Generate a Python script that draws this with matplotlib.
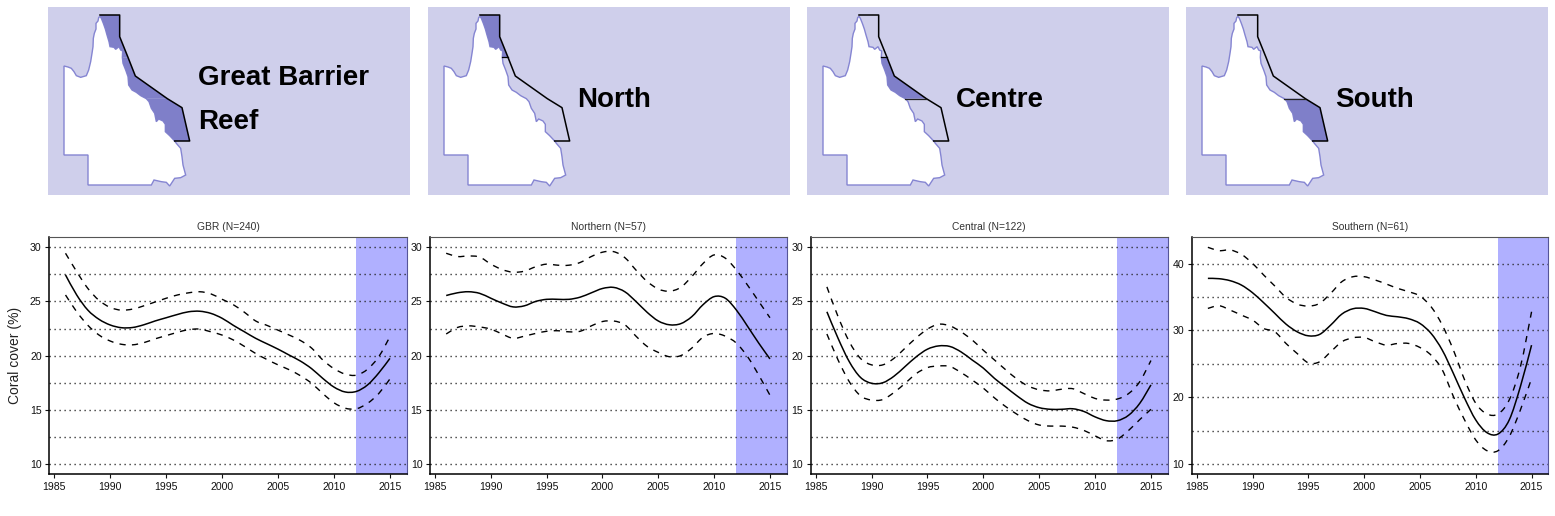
import matplotlib
matplotlib.use('Agg')
import matplotlib.pyplot as plt
from matplotlib.patches import Polygon, PathPatch
from matplotlib.path import Path

plt.rcParams['font.family'] = ['Liberation Sans', 'DejaVu Sans']

years = list(range(1986, 2016))

gbr_mean = [27.45, 25.6, 24.2, 23.35, 22.83, 22.58, 22.6, 22.85, 23.2, 23.5, 23.8, 24.05, 24.1, 23.9, 23.45,
            22.8, 22.2, 21.6, 21.1, 20.6, 20.05, 19.5, 18.8, 17.9, 17.1, 16.65, 16.7, 17.3, 18.4, 19.75]
gbr_upper = [29.45, 27.75, 26.2, 25.1, 24.45, 24.2, 24.3, 24.6, 24.95, 25.3, 25.6, 25.8, 25.9, 25.7, 25.2,
             24.7, 24.0, 23.2, 22.8, 22.35, 21.9, 21.4, 20.7, 19.6, 18.8, 18.3, 18.2, 18.75, 19.9, 21.75]
gbr_lower = [25.6, 24.05, 22.8, 21.9, 21.35, 21.05, 21.0, 21.2, 21.55, 21.85, 22.15, 22.4, 22.45, 22.2, 21.9,
             21.45, 20.85, 20.2, 19.65, 19.15, 18.7, 18.15, 17.45, 16.5, 15.65, 15.15, 15.1, 15.6, 16.5, 17.85]

north_mean = [25.55, 25.8, 25.9, 25.75, 25.3, 24.85, 24.5, 24.6, 25.0, 25.2, 25.2, 25.2, 25.4, 25.8, 26.2,
              26.3, 25.9, 25.0, 24.0, 23.2, 22.85, 22.95, 23.6, 24.7, 25.45, 25.3, 24.2, 22.7, 21.15, 19.7]
north_upper = [29.45, 29.15, 29.2, 29.1, 28.45, 27.95, 27.7, 27.8, 28.2, 28.45, 28.35, 28.35, 28.6, 29.15, 29.55,
               29.6, 29.05, 27.9, 26.85, 26.15, 25.95, 26.3, 27.3, 28.5, 29.3, 29.0, 27.9, 26.5, 25.0, 23.5]
north_lower = [22.0, 22.6, 22.75, 22.65, 22.45, 22.0, 21.6, 21.8, 22.05, 22.25, 22.3, 22.2, 22.25, 22.75, 23.15,
               23.2, 22.85, 21.8, 20.85, 20.3, 19.9, 20.0, 20.7, 21.7, 22.05, 21.8, 21.15, 19.9, 18.2, 16.35]

central_mean = [24.05, 21.6, 19.45, 18.0, 17.45, 17.5, 18.1, 19.0, 19.9, 20.6, 20.9, 20.85, 20.35, 19.6, 18.85,
                17.9, 17.1, 16.3, 15.6, 15.2, 15.05, 15.05, 15.1, 14.85, 14.35, 14.0, 14.0, 14.5, 15.6, 17.3]
central_upper = [26.35, 23.6, 21.3, 19.75, 19.15, 19.15, 19.75, 20.7, 21.65, 22.45, 22.9, 22.75, 22.2, 21.45, 20.5,
                 19.6, 18.7, 17.85, 17.2, 16.85, 16.75, 16.9, 16.95, 16.5, 16.05, 15.9, 16.0, 16.5, 17.6, 19.55]
central_lower = [22.0, 19.6, 17.6, 16.3, 15.9, 15.95, 16.6, 17.45, 18.35, 18.9, 19.05, 19.0, 18.45, 17.75, 17.0,
                 16.1, 15.3, 14.6, 14.0, 13.6, 13.5, 13.5, 13.4, 13.1, 12.6, 12.15, 12.3, 13.1, 14.1, 15.05]

south_mean = [37.8, 37.75, 37.45, 36.8, 35.65, 34.15, 32.55, 30.95, 29.8, 29.2, 29.4, 30.8, 32.45, 33.25, 33.3,
              32.8, 32.25, 32.05, 31.75, 31.05, 29.55, 27.05, 23.55, 19.85, 16.6, 14.7, 14.5, 16.6, 21.6, 27.8]
south_upper = [42.45, 41.95, 42.05, 41.4, 40.05, 38.3, 36.65, 34.95, 33.95, 33.65, 34.05, 35.55, 37.3, 38.05, 38.05,
               37.55, 36.95, 36.3, 35.8, 35.15, 33.55, 30.8, 27.05, 22.6, 19.1, 17.5, 17.5, 19.6, 24.55, 32.8]
south_lower = [33.3, 33.7, 33.05, 32.3, 31.55, 30.3, 29.8, 28.05, 26.55, 25.15, 25.3, 26.8, 28.3, 28.9, 28.95,
               28.3, 27.8, 28.05, 28.05, 27.45, 26.3, 24.1, 20.1, 16.6, 13.6, 12.0, 12.0, 14.1, 18.1, 22.8]

titles = ['GBR (N=240)', 'Northern (N=57)', 'Central (N=122)', 'Southern (N=61)']
map_labels = ['Great Barrier\nReef', 'North', 'Centre', 'South']

# map outline
west_coast = [(28, 183), (40, 186), (50, 190), (58, 200), (65, 212), (78, 217), (95, 212), (102, 195), (108, 170),
              (112, 145), (115, 125), (116, 100), (119, 85), (124, 72), (124, 55), (130, 48), (132, 38), (136, 34)]
north_coast = [(136, 34), (140, 40), (146, 55), (152, 72), (157, 90), (163, 110), (166, 125), (178, 127), (183, 133),
               (193, 125), (198, 135), (204, 138), (203, 157)]
centre_coast = [(203, 157), (205, 175), (213, 195), (220, 215), (222, 240), (232, 255), (245, 262), (258, 272),
                (275, 281)]
south_coast = [(275, 281), (283, 290), (290, 310), (300, 325), (305, 350), (312, 342), (325, 348), (332, 358),
               (332, 380), (345, 392), (360, 408)]
rest_outline = [(360, 408), (365, 415), (378, 430), (382, 455), (385, 480), (393, 510), (378, 518), (360, 520),
                (345, 543), (335, 532), (320, 530), (298, 525), (290, 540), (100, 540), (100, 450), (28, 450)]
north_outer = [(136, 30), (195, 30), (195, 95), (220, 157)]
centre_outer = [(220, 157), (242, 213), (338, 281)]
south_outer = [(338, 281), (382, 308), (405, 408)]

FIG_W = 1555
FIG_H = 516
map_lefts = [48, 428, 807, 1186]
plot_boxes = [(49.3, 406.7), (430, 786.7), (810.7, 1167.7), (1191.7, 1548.3)]
label_x = [198, 577, 956, 1335]

fill_col = '#7f7fc9'
bg_col = '#cfcfeb'
coast_col = '#8585d2'


def draw_map(left, label, lab_x, region):
    ax = fig.add_axes([left / FIG_W, 1 - 195 / FIG_H, 362 / FIG_W, 188 / FIG_H])
    ax.set_xlim(-20, 1066)
    ax.set_ylim(570, 6)
    ax.set_facecolor(bg_col)
    ax.set_xticks([])
    ax.set_yticks([])
    for s in ax.spines.values():
        s.set_visible(False)

    land = west_coast + north_coast + centre_coast + south_coast + rest_outline
    ax.add_patch(Polygon(land, closed=True, fc='white', ec=coast_col, lw=1.0))

    # shaded part of the reef
    north = north_coast[::-1] + north_outer
    centre = centre_coast[::-1] + centre_outer
    south = south_coast[::-1] + south_outer
    if region == 0:
        shaded = [north, centre, south]
    else:
        shaded = [[north, centre, south][region - 1]]
    for poly in shaded:
        ax.add_patch(Polygon(poly, closed=True, fc=fill_col, ec='none'))

    outer = north_outer + centre_outer + south_outer + [(360, 408)]
    ax.plot([p[0] for p in outer], [p[1] for p in outer], color='black', lw=1.1)
    # dividing lines only around the highlighted section
    if region in (1, 2):
        ax.plot([203, 220], [157, 157], color='black', lw=0.9)
    if region in (2, 3):
        ax.plot([275, 338], [281, 281], color='#222222', lw=0.9)

    fig.text(lab_x / FIG_W, 1 - 100 / FIG_H, label, fontsize=20, fontweight='bold', color='black',
             ha='left', va='center', linespacing=1.89)


def smooth_curve(ax, xs, ys, **kw):
    # bezier segments through the read values, so the 1-year steps don't look angular
    n = len(xs)
    verts = [(xs[0], ys[0])]
    codes = [Path.MOVETO]
    for i in range(n - 1):
        x_prev, y_prev = (xs[i - 1], ys[i - 1]) if i > 0 else (xs[i], ys[i])
        x_next, y_next = (xs[i + 2], ys[i + 2]) if i < n - 2 else (xs[i + 1], ys[i + 1])
        verts.append((xs[i] + (xs[i + 1] - x_prev) / 6, ys[i] + (ys[i + 1] - y_prev) / 6))
        verts.append((xs[i + 1] - (x_next - xs[i]) / 6, ys[i + 1] - (y_next - ys[i]) / 6))
        verts.append((xs[i + 1], ys[i + 1]))
        codes += [Path.CURVE4, Path.CURVE4, Path.CURVE4]
    ax.add_patch(PathPatch(Path(verts, codes), fc='none', ec='black', zorder=3, **kw))


def draw_trend(box, mean, upper, lower, title, ylim, yticks, grid):
    ax = fig.add_axes([box[0] / FIG_W, 1 - 474.3 / FIG_H, (box[1] - box[0]) / FIG_W, 237.6 / FIG_H])
    ax.axvspan(2012, 2016.5, color='#b0b0ff', lw=0, zorder=1)
    for g in grid:
        ax.axhline(g, color='#222222', lw=1.0, linestyle=(0, (0.9, 2.7)), zorder=2)
    smooth_curve(ax, years, mean, lw=1.1)
    smooth_curve(ax, years, upper, lw=1.0, linestyle=(0, (4.5, 4.5)))
    smooth_curve(ax, years, lower, lw=1.0, linestyle=(0, (4.5, 4.5)))
    ax.set_xlim(1984.55, 2016.5)
    ax.set_ylim(ylim)
    ax.set_xticks(range(1985, 2016, 5))
    ax.set_yticks(yticks)
    ax.tick_params(labelsize=7.6, length=3, width=0.8, pad=2.5, colors='#111111')
    ax.set_title(title, fontsize=7.4, color='#333333', pad=4.8)
    ax.spines['left'].set_linewidth(1.1)
    ax.spines['bottom'].set_linewidth(1.1)
    ax.spines['top'].set_linewidth(0.8)
    ax.spines['top'].set_color('#555555')
    ax.spines['right'].set_linewidth(0.8)
    ax.spines['right'].set_color('#555599')
    return ax


fig = plt.figure(figsize=(FIG_W / 100, FIG_H / 100), dpi=100)

for i in range(4):
    draw_map(map_lefts[i], map_labels[i], label_x[i], i)

grid_a = [10, 12.5, 15, 17.5, 20, 22.5, 25, 27.5, 30]
grid_b = [10, 15, 20, 25, 30, 35, 40]
ticks_a = [10, 15, 20, 25, 30]
ticks_b = [10, 20, 30, 40]

ax1 = draw_trend(plot_boxes[0], gbr_mean, gbr_upper, gbr_lower, titles[0], (9.05, 30.98), ticks_a, grid_a)
draw_trend(plot_boxes[1], north_mean, north_upper, north_lower, titles[1], (9.05, 30.98), ticks_a, grid_a)
draw_trend(plot_boxes[2], central_mean, central_upper, central_lower, titles[2], (9.05, 30.98), ticks_a, grid_a)
draw_trend(plot_boxes[3], south_mean, south_upper, south_lower, titles[3], (8.46, 44.04), ticks_b, grid_b)
ax1.set_ylabel('Coral cover (%)', fontsize=10, color='#222222', labelpad=6)

fig.savefig('out.png', dpi=100)
